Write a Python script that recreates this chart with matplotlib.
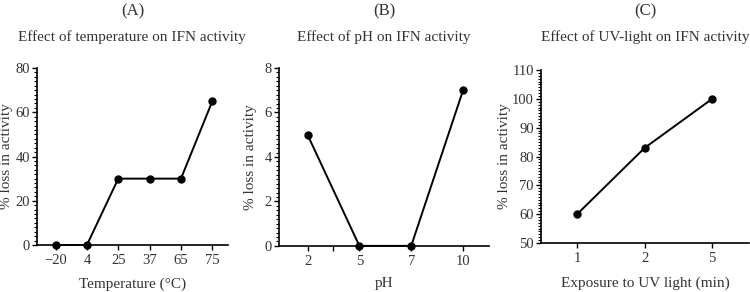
import matplotlib.pyplot as plt
from matplotlib.ticker import MultipleLocator, FixedLocator

plt.rcParams['font.family'] = ['Liberation Serif', 'DejaVu Serif']

# Panel A: temperature
temp_labels = ['\u221220', '4', '25', '37', '65', '75']
temp_loss = [0, 0, 30, 30, 30, 65]

# Panel B: pH
ph_labels = ['2', '5', '7', '10']
ph_loss = [5, 0, 0, 7]

# Panel C: UV light
uv_labels = ['1', '2', '5']
uv_loss = [60, 83, 100]

fig = plt.figure(figsize=(7.5, 2.92), dpi=100)

panels = [
    ([0.049, 0.161, 0.255, 0.606], temp_labels, temp_loss, (0, 80), 20, 2,
     (-0.6, 5.5), '(A)', 'Effect of temperature on IFN activity', 'Temperature (\u00b0C)',
     -0.124, -0.181),
    ([0.372, 0.158, 0.280, 0.609], ph_labels, ph_loss, (0, 8), 2, 0.2,
     (-0.55, 3.5), '(B)', 'Effect of pH on IFN activity', 'pH',
     -0.105, -0.174),
    ([0.721, 0.168, 0.278, 0.592], uv_labels, uv_loss, (50, 110), 10, 1,
     (-0.54, 2.55), '(C)', 'Effect of UV-light on IFN activity', 'Exposure to UV light (min)',
     -0.142, -0.197),
]

for i, (rect, labels, vals, ylim, major, minor, xlim, tag, title, xlabel, ylx, xly) in enumerate(panels):
    ax = fig.add_axes(rect)
    x = range(len(labels))
    ax.plot(x, vals, color='black', lw=1.4, marker='o', markersize=5, clip_on=False, zorder=3)
    ax.set_xlim(*xlim)
    ax.set_ylim(*ylim)
    ax.set_xticks(list(x))
    ax.set_xticklabels(labels)
    if i == 1:
        ax.xaxis.set_minor_locator(FixedLocator([0.5]))
    ax.yaxis.set_major_locator(MultipleLocator(major))
    ax.yaxis.set_minor_locator(MultipleLocator(minor))
    ax.spines['top'].set_visible(False)
    ax.spines['right'].set_visible(False)
    ax.spines['left'].set_linewidth(1.2)
    ax.spines['bottom'].set_linewidth(1.2)
    ax.tick_params(axis='both', which='major', labelsize=10.5, length=3.5, width=1.0,
                   colors='black', labelcolor='#333333', pad=1.5)
    ax.tick_params(axis='x', which='major', pad=3)
    ax.tick_params(axis='y', which='minor', length=2, width=0.8)
    ax.tick_params(axis='x', which='minor', length=3.5, width=1.0)
    ax.set_xlabel(xlabel, fontsize=11, color='#333333')
    ax.set_ylabel('% loss in activity', fontsize=11, color='#333333')
    ax.yaxis.set_label_coords(ylx, 0.5)
    ax.xaxis.set_label_coords(0.5, xly)
    cx = rect[0] + rect[2] / 2
    fig.text(cx, 1 - 37 / 292, title, ha='center', va='center',
             fontsize=11, color='#333333')
    fig.text(cx, 1 - 11 / 292, tag, ha='center', va='center',
             fontsize=12, color='#333333')

fig.savefig('out.png', dpi=100)
